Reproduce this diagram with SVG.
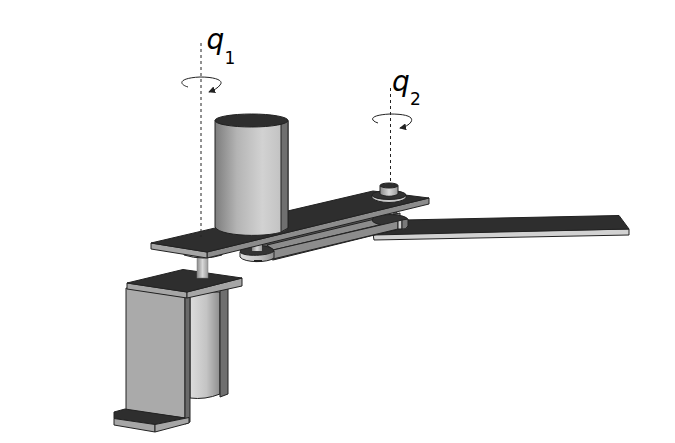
<svg xmlns="http://www.w3.org/2000/svg" width="675" height="443" viewBox="0 0 675 443">
<style>
.o{stroke:#222;stroke-width:1;stroke-linejoin:round}
.top{fill:#2e2e2e;stroke:#222;stroke-width:1;stroke-linejoin:round}
.edge{fill:#8c8c8c;stroke:#222;stroke-width:1;stroke-linejoin:round}
.pale{fill:#a6a6a6;stroke:#222;stroke-width:1;stroke-linejoin:round}
.axis{fill:none;stroke:#222;stroke-width:1;stroke-dasharray:3 3}
.rot{fill:none;stroke:#222;stroke-width:1}
.q{font-family:"DejaVu Sans",sans-serif;font-style:italic;font-size:28px;fill:#000}
.s{font-family:"DejaVu Sans",sans-serif;font-size:17px;fill:#000}
</style>
<defs>
<linearGradient id="cyl" x1="0" x2="1" y1="0" y2="0">
<stop offset="0" stop-color="#7d7d7d"/><stop offset=".3" stop-color="#b4b4b4"/><stop offset=".65" stop-color="#d2d2d2"/><stop offset="1" stop-color="#bdbdbd"/>
</linearGradient>
<linearGradient id="small" x1="0" x2="1" y1="0" y2="0">
<stop offset="0" stop-color="#8a8a8a"/><stop offset=".5" stop-color="#d8d8d8"/><stop offset="1" stop-color="#9a9a9a"/>
</linearGradient>
<linearGradient id="low" x1="0" x2="1" y1="0" y2="0">
<stop offset="0" stop-color="#dcdcdc"/><stop offset=".55" stop-color="#c4c4c4"/><stop offset="1" stop-color="#8e8e8e"/>
</linearGradient>
<marker id="arr" viewBox="0 0 8 8" refX="7" refY="4" markerWidth="7" markerHeight="7" orient="auto" markerUnits="userSpaceOnUse">
<path d="M0 0L8 4L0 8Z" fill="#222"/>
</marker>
</defs>

<g id="right-arm">
<path class="o" d="M373 234L629 229V235L374 240Z" fill="#d2d2d2"/>
<path class="top" d="M404 220L619 215.500L629 229L373 235L378 232Z"/>
</g>

<g id="base-motor">
<path d="M190 292H220V394Q205 400 190 398Z" fill="url(#low)" stroke="#222"/>
<path class="o" d="M220 288H228V394L220 397Z" fill="#6f6f6f"/>
</g>

<g id="base-bracket">
<path class="o" d="M126 288L185 297V418L126 410Z" fill="#aaa"/>
<path class="o" d="M185 297L190 296V422L185 424Z" fill="#6a6a6a"/>
<path class="top" d="M114 412L125 409L185 418L155 424.500L114 418.500Z"/>
<path class="pale" d="M114 418.500L155 424.500V432L114 425Z"/>
<path class="pale" d="M155 424.500L189 417.500V423L155 432Z"/>
<path class="pale" d="M127 283L187 292V298L127 289Z"/>
<path class="pale" d="M187 292L242 278V286L187 298Z"/>
<path class="top" d="M127 283L183 269.500L242 278L187 292Z"/>
</g>

<g id="base-shaft">
<rect x="197" y="254" width="11" height="24" fill="url(#small)" stroke="#777" stroke-width=".5"/>
</g>

<g id="lower-link">
<path class="o" d="M262 243L395 210L407 227L273 260L262 256Z" fill="#565656"/>
<path class="edge" d="M267 245L400 213V220L273 250Z"/>
<rect x="384" y="212" width="9" height="8" fill="url(#small)"/>
<ellipse cx="390" cy="220" rx="18" ry="5.500" fill="#333" stroke="#222"/>
<path class="edge" d="M273 250L398 221V229L273 259Z"/>
<path class="o" d="M398 221L402 220V229L398 229Z" fill="#d0d0d0"/>
<path class="o" d="M402 220L408 219V226Q406 230 402 229Z" fill="#7a7a7a"/>
<ellipse cx="257" cy="251" rx="17" ry="5.500" fill="#333" stroke="#222"/>
<path class="o" d="M240 252V257C244 263 268 263 274 258V251C270 256 243 257 240 252Z" fill="url(#low)"/>
<path d="M254 260H262V262H254Z" fill="#222"/>
<rect x="252" y="244" width="10" height="7" fill="url(#small)"/>
</g>

<g id="upper-plate">
<path class="o" d="M184 255Q203 261 222 255L222 253L184 251Z" fill="#b2b2b2"/>
<path class="edge" d="M207 252L429 198V204L207 258Z"/>
<path class="pale" d="M151 243L207 252V258L151 249Z"/>
<path class="top" d="M151 243L373 191L429 198L207 252Z"/>
</g>

<g id="motor">
<path d="M215 120.500V227C220 238 283 238 288 228V120.500Z" fill="url(#cyl)" stroke="#222"/>
<path class="o" d="M281 121H288V228L281 232Z" fill="#6f6f6f"/>
<ellipse cx="251.500" cy="120.500" rx="36.500" ry="6.500" fill="#2e2e2e" stroke="#222"/>
</g>

<g id="upper-pivot">
<path class="o" d="M372 195V198C378 204 400 204 406 198V195Z" fill="#c8c8c8"/>
<ellipse cx="389" cy="195" rx="17" ry="4.500" fill="#333" stroke="#222"/>
<path class="o" d="M380 186V194C384 197 394 197 398 194V186Z" fill="url(#small)"/>
<ellipse cx="389" cy="185.500" rx="9" ry="2.500" fill="#2e2e2e" stroke="#222"/>
</g>

<g id="connectors">
<line class="axis" x1="201" y1="43" x2="201" y2="237"/>
<line class="axis" x1="390.500" y1="88" x2="390.500" y2="183"/>
<path class="rot" marker-end="url(#arr)" d="M188 87C178 84 179 78 200 77C217 77 224 81 220 85C218 88 214 90 209 92"/>
<path class="rot" marker-end="url(#arr)" d="M378 123C369 120 370 115 390 114C407 114 414 117 411 122C409 125 405 127 400 128"/>
</g>

<g id="label-q1"><text class="q" x="206.500" y="48.500">q</text><text class="s" x="224.500" y="63.500">1</text></g>
<g id="label-q2"><text class="q" x="392" y="90.500">q</text><text class="s" x="410" y="105">2</text></g>
</svg>
